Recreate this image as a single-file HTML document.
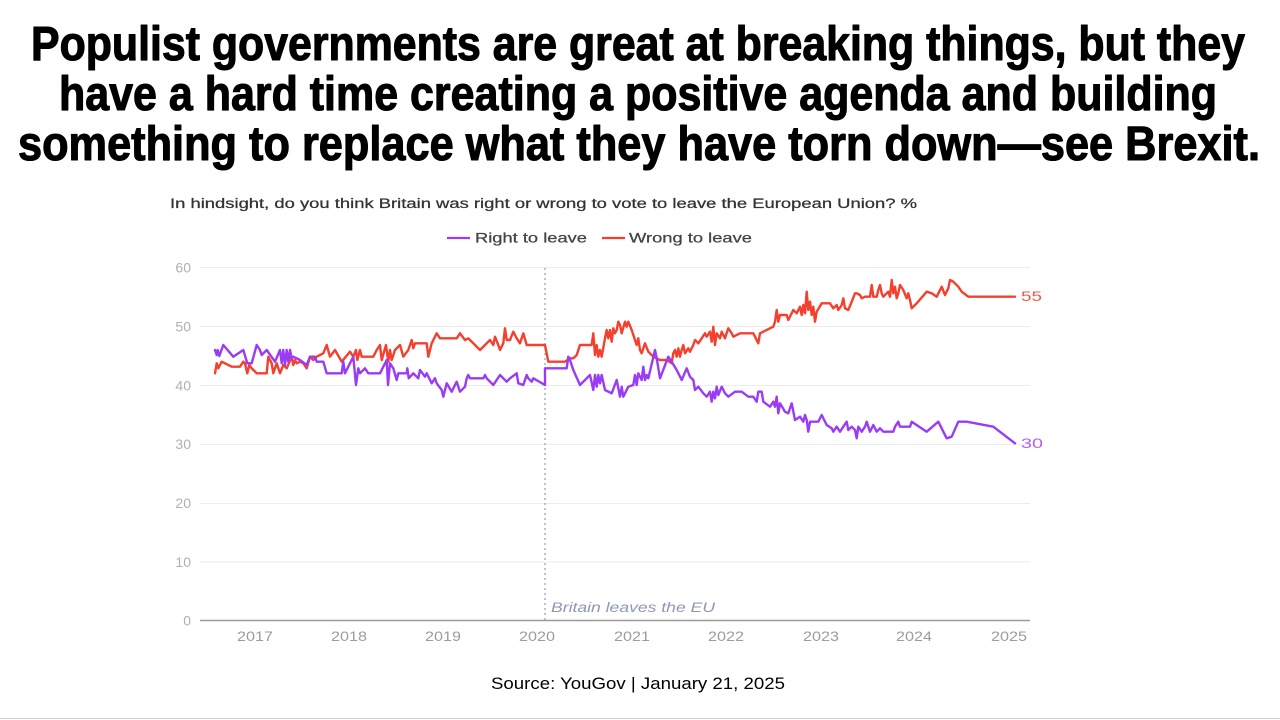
<!DOCTYPE html>
<html>
<head>
<meta charset="utf-8">
<style>
  html,body{margin:0;padding:0;background:#fff;}
  body{width:1280px;height:720px;overflow:hidden;}
  svg{display:block;}
</style>
</head>
<body>
<svg width="1280" height="720" viewBox="0 0 1280 720" xmlns="http://www.w3.org/2000/svg">
  <rect x="0" y="0" width="1280" height="720" fill="#ffffff"/>

  <!-- Title -->
  <g font-family="'Liberation Sans', Arial, sans-serif" font-weight="bold" font-size="48" fill="#000" stroke="#000" stroke-width="1.1" stroke-linejoin="round">
    <text x="31" y="60" textLength="1214" lengthAdjust="spacingAndGlyphs">Populist governments are great at breaking things, but they</text>
    <text x="59" y="110" textLength="1158" lengthAdjust="spacingAndGlyphs">have a hard time creating a positive agenda and building</text>
    <text x="18" y="160" textLength="1242" lengthAdjust="spacingAndGlyphs">something to replace what they have torn down—see Brexit.</text>
  </g>

  <!-- Subtitle -->
  <text x="170" y="208" font-family="'Liberation Sans', Arial, sans-serif" font-size="13.5" fill="#333" stroke="#333" stroke-width="0.25" textLength="747" lengthAdjust="spacingAndGlyphs">In hindsight, do you think Britain was right or wrong to vote to leave the European Union? %</text>

  <!-- Legend -->
  <line x1="447" y1="238" x2="470" y2="238" stroke="#9a3cf6" stroke-width="2.2"/>
  <text x="475" y="242.5" font-family="'Liberation Sans', Arial, sans-serif" font-size="14" fill="#444" stroke="#444" stroke-width="0.25" textLength="112" lengthAdjust="spacingAndGlyphs">Right to leave</text>
  <line x1="602" y1="238" x2="625" y2="238" stroke="#f4402e" stroke-width="2.2"/>
  <text x="629" y="242.5" font-family="'Liberation Sans', Arial, sans-serif" font-size="14" fill="#444" stroke="#444" stroke-width="0.25" textLength="123" lengthAdjust="spacingAndGlyphs">Wrong to leave</text>

  <!-- Gridlines -->
  <g stroke="#ececec" stroke-width="1">
    <line x1="200" y1="267.5" x2="1030" y2="267.5"/>
    <line x1="200" y1="326.5" x2="1030" y2="326.5"/>
    <line x1="200" y1="385.5" x2="1030" y2="385.5"/>
    <line x1="200" y1="444.5" x2="1030" y2="444.5"/>
    <line x1="200" y1="503.5" x2="1030" y2="503.5"/>
    <line x1="200" y1="562" x2="1030" y2="562"/>
  </g>
  <line x1="200" y1="620.5" x2="1030" y2="620.5" stroke="#9a9a9a" stroke-width="1.5"/>

  <!-- Y labels -->
  <g font-family="'Liberation Sans', Arial, sans-serif" font-size="14" fill="#b0b0b0" text-anchor="end">
    <text x="191" y="272.5">60</text>
    <text x="191" y="331.5">50</text>
    <text x="191" y="390.5">40</text>
    <text x="191" y="449">30</text>
    <text x="191" y="508">20</text>
    <text x="191" y="567">10</text>
    <text x="191" y="625.5">0</text>
  </g>

  <!-- X labels -->
  <g font-family="'Liberation Sans', Arial, sans-serif" font-size="14" fill="#9c9c9c" text-anchor="middle">
    <text x="255" y="641" textLength="36" lengthAdjust="spacingAndGlyphs">2017</text>
    <text x="349" y="641" textLength="36" lengthAdjust="spacingAndGlyphs">2018</text>
    <text x="443" y="641" textLength="36" lengthAdjust="spacingAndGlyphs">2019</text>
    <text x="537" y="641" textLength="36" lengthAdjust="spacingAndGlyphs">2020</text>
    <text x="632" y="641" textLength="36" lengthAdjust="spacingAndGlyphs">2021</text>
    <text x="726" y="641" textLength="36" lengthAdjust="spacingAndGlyphs">2022</text>
    <text x="821" y="641" textLength="36" lengthAdjust="spacingAndGlyphs">2023</text>
    <text x="914" y="641" textLength="36" lengthAdjust="spacingAndGlyphs">2024</text>
    <text x="1009" y="641" textLength="36" lengthAdjust="spacingAndGlyphs">2025</text>
  </g>

  <!-- Brexit marker -->
  <line x1="545" y1="268" x2="545" y2="620" stroke="#9aa3bf" stroke-width="1.3" stroke-dasharray="2,3"/>
  <text x="551" y="612" font-family="'Liberation Sans', Arial, sans-serif" font-style="italic" font-size="13.5" fill="#8e98b5" textLength="164" lengthAdjust="spacingAndGlyphs">Britain leaves the EU</text>

  <!-- Wrong to leave (red) -->
  <polyline fill="none" stroke="#f4402e" stroke-width="2.4" stroke-linejoin="round" stroke-linecap="round" points="215,373.3 216.7,363.3 218.3,368.3 221.7,361.7 231.7,366.7 240,366.7 243.3,361.7 245,363.3 247.3,373.3 249.3,365 251.7,368.3 256.7,373.3 266.7,373.3 268.3,356.7 271.7,363.3 273.3,373.3 276.7,363.3 280,373.3 283.3,365 286.7,368.3 291.7,356.7 293.3,365 295,360 296.7,363.3 300,361.7 303.3,363.3 306.7,368.3 310,356.7 313.3,360 316.7,356.7 323.3,353.3 326.7,345 330,356.7 335,350 341.7,361.7 350,351.7 353.3,356.7 356,350 357.3,360 360,350 361.7,356.7 373.3,356.7 376.7,350 380,345 381.7,360 386,345 388.3,361.7 390,350 391.7,360 395,350 400,345 403.3,356.7 408.3,350 411.7,340 413.3,348.3 415,343.3 426.7,343.3 428.3,356.7 431.7,343.3 436.7,333.3 440,338.3 456.7,338.3 460,333.3 465,340 468.3,338.3 470,340 480,350 485,345 490,340 493.3,345 495,336.7 498.3,345 500,350 503.3,343.3 505,328.3 506.7,340 510,340 513.3,331.7 516.7,338.3 520,343.3 523.3,333.3 526.7,345 543.3,345 545,345 548.3,361.7 565,361.7 570,358.3 573.3,358.3 576.7,355 580,345 591.7,345 593.3,333.3 595,355 596.7,345 598.3,356.7 600,350 601.7,356.7 605,338.3 606.7,330 608.3,338.3 610,330 611.7,341.7 613.3,328.3 615,333.3 616.7,330 618.3,321.7 620,325 621.7,333.3 625,321.7 626.7,326.7 628.3,321.7 631.7,330 635,340 636.7,345 638.3,338.3 640,350 641.7,353.3 645,343.3 648.3,351.7 653.3,356.7 660,360 666.7,360 671.7,363.3 673.3,353.3 675,350 676.7,356.7 678.3,348.3 680,356.7 681.7,350 683.3,345 685,353.3 688.3,348.3 690,351.7 693.3,345 695,340 698.3,343.3 701.7,338.3 705,333.3 706.7,336.7 710,331.7 711.7,341.7 713.3,326.7 715,345 716.7,333.3 720,338.3 721.7,331.7 725,338.3 728.3,328.3 731.7,333.3 733.3,336.7 740,333.3 753.3,333.3 758.3,343.3 760,333.3 763.3,331.7 770,328.3 773.3,326.7 775,321.7 776.7,310 778.3,321.7 780,315 786.7,315 788.3,320 793.3,310 796.7,313.3 800,306.7 801.7,315 803.3,305 805,313.3 806.7,291.7 808.3,310 810,301.7 811.7,315 813.3,306.7 815,321.7 816.7,311.7 821.7,303.3 830,303.3 833.3,308.3 836.7,305 838.3,310 841.7,305 843.3,298.3 845,308.3 848.3,310 851.7,301.7 855,293.3 856.7,293.3 860,295 861.7,298.3 865,296.7 870,296.7 871.7,285 873.3,296.7 876.7,296.7 878.3,290 880,285 881.7,293.3 883.3,296.7 888.3,291.7 890,296.7 891.7,280 893.3,293.3 895,286.7 896.7,298.3 898.3,293.3 900,285 903.3,290 906.7,298.3 908.3,293.3 910,300 911.7,308.3 916.7,303.3 926.7,291.7 931.7,293.3 936.7,296.7 941.7,286.7 945,295 948.3,288.3 950,280 953.3,281.7 958.3,286.7 961.7,291.7 968.3,296.7 1015,296.7"/>

  <!-- Right to leave (purple) -->
  <polyline fill="none" stroke="#9a3cf6" stroke-width="2.4" stroke-linejoin="round" stroke-linecap="round" points="215,350 216.7,355 217.7,350 219.3,356 223.3,345 233.3,356.7 243.3,350 247.3,363.3 251.7,363.3 256.7,345 260,350 261.7,355 266.7,350 275,361.7 280,350 281.7,363.3 283.3,350 285,365 286.7,350 288.3,361.7 290,350 291.7,358.3 293.3,356.7 300,360 306.7,365 310,356.7 315,356.7 316.7,361.7 323.3,361.7 326.7,373.3 341.7,373.3 343.3,361.7 345,373.3 353.3,356.7 356,385 358.3,368.3 360,373.3 365,368.3 368.3,373.3 380,373.3 386.7,360 388,385 390,363.3 393.3,368.3 396.7,380 398.3,373.3 406.7,373.3 407.3,368.3 408.7,378.3 413.3,373.3 418.3,378.3 420,370 425,376.7 426.7,373.3 431.7,383.3 435,378.3 436.7,383.3 441.7,390 443.3,396.7 446.7,383.3 451.7,391.7 456.7,381.7 460,391.7 465,386.7 466.7,378.3 468.3,375 470,378.3 483.3,378.3 485,375 486.7,378.3 493.3,385 500,375 506.7,381.7 510,378.3 516.7,373.3 518.3,383.3 523.3,385 526.7,375 528.3,378.3 531.7,381.7 533.3,378.3 545,385 545,368.3 566.7,368.3 568.3,356.7 570,360 573.3,370 580,385 590,375 593.3,390 595,375 596.7,386.7 598.3,375 600,383.3 601.7,375 605,390 611.7,393.3 616.7,380 620,396.7 621.7,386.7 623.3,396.7 628.3,386.7 633.3,385 635,375 636.7,385 638.3,373.3 641.7,380 643.3,366.7 645,380 646.7,375 648.3,378.3 655,350 656.7,358.3 660,378.3 668.3,356.7 671.7,361.7 676.7,370 681.7,380 686.7,368.3 690,376.7 693.3,380 695,390 698.3,386.7 703.3,393.3 706.7,396.7 710,391.7 711.7,401.7 713.3,391.7 715,398.3 716.7,386.7 718.3,395 721.7,386.7 725,393.3 728.3,396.7 735,391.7 741.7,391.7 748.3,396.7 753.3,396.7 756.7,401.7 758.3,391.7 761.7,391.7 763.3,401.7 770,406.7 773.3,401.7 775,406.7 776.7,396.7 778.3,413.3 780,403.3 785,411.7 788.3,413.3 791.7,403.3 795,420 800,416.7 803.3,421.7 805,415 806.7,420 808.3,431.7 810,421.7 818.3,421.7 821.7,415 826.7,425 831.7,428.3 833.3,431.7 836.7,426.7 840,431.7 843.3,426.7 846.7,421.7 848.3,430 851.7,426.7 855,430 856.7,438.3 858.3,426.7 861.7,431.7 865,426.7 866.7,421.7 870,431.7 873.3,425 876.7,431.7 880,428.3 883.3,431.7 893.3,431.7 895,426.7 898.3,421.7 900,426.7 910,426.7 911.7,421.7 926.7,431.7 938.3,421.7 946.7,438.3 951.7,436.7 958.3,421.7 966.7,421.7 993.3,426.7 1015,443.3"/>

  <!-- End labels -->
  <text x="1021" y="301" font-family="'Liberation Sans', Arial, sans-serif" font-size="14" fill="#f0584a" textLength="21" lengthAdjust="spacingAndGlyphs">55</text>
  <text x="1021" y="448" font-family="'Liberation Sans', Arial, sans-serif" font-size="14" fill="#b260f0" textLength="22" lengthAdjust="spacingAndGlyphs">30</text>

  <!-- Source -->
  <text x="638" y="689" text-anchor="middle" font-family="'Liberation Sans', Arial, sans-serif" font-size="17" fill="#000" textLength="294" lengthAdjust="spacingAndGlyphs">Source: YouGov | January 21, 2025</text>

  <!-- bottom rule -->
  <line x1="0" y1="718.5" x2="1280" y2="718.5" stroke="#d0d0d0" stroke-width="1"/>
</svg>
</body>
</html>
